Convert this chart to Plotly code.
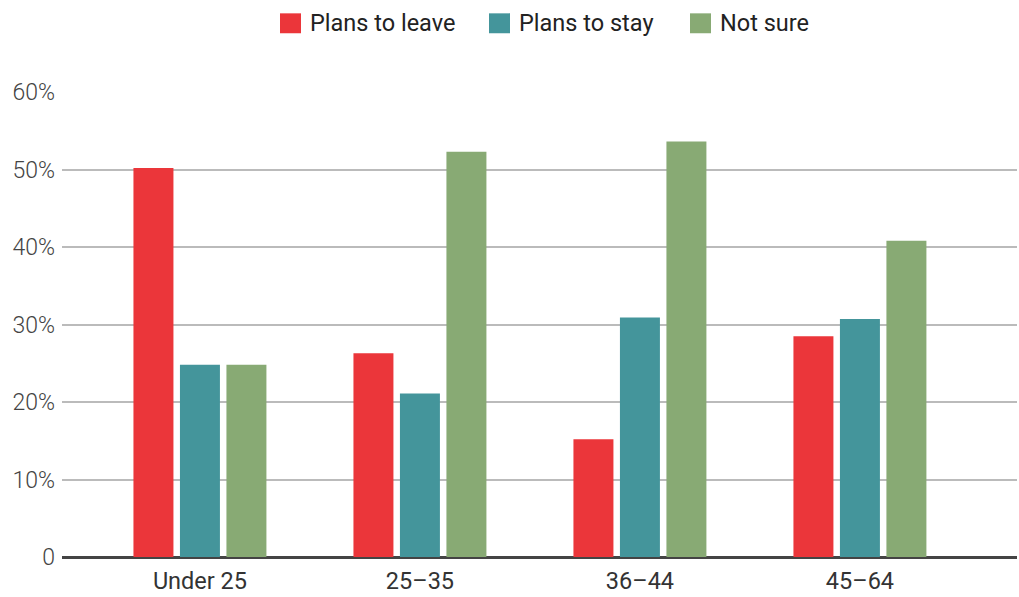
import plotly.graph_objects as go

categories = ["Under 25", "25–35", "36–44", "45–64"]
plans_to_leave = [50.2, 26.3, 15.2, 28.5]
plans_to_stay = [24.8, 21.1, 30.9, 30.7]
not_sure = [24.8, 52.3, 53.6, 40.8]
series_names = ["Plans to leave", "Plans to stay", "Not sure"]
y_tick_values = [0, 10, 20, 30, 40, 50, 60]
y_tick_labels = ["0", "10%", "20%", "30%", "40%", "50%", "60%"]

colors = ["#eb363a", "#44959b", "#88aa74"]
FONT = "Roboto"

fig = go.Figure()
for name, vals, col in zip(series_names, [plans_to_leave, plans_to_stay, not_sure], colors):
    fig.add_trace(go.Bar(x=categories, y=vals, name=name, marker=dict(color=col, line=dict(width=0)),
                         showlegend=False))

# custom legend (swatches + real text)
legend_x = [280, 489, 690]  # pixel positions of swatches
W, H = 1019, 597
ml, mr, mt, mb = 62, 2, 92, 38
pw = W - ml - mr
ph = H - mt - mb
shapes = []
annotations = []
for name, col, px in zip(series_names, colors, legend_x):
    x0 = (px - ml) / pw
    x1 = (px + 21 - ml) / pw
    y_top = (H - mb - 13) / ph
    y_bot = (H - mb - 33) / ph
    shapes.append(dict(type="rect", xref="paper", yref="paper", x0=x0, x1=x1, y0=y_bot, y1=y_top,
                       fillcolor=col, line=dict(width=0)))
    annotations.append(dict(xref="paper", yref="paper", x=(px + 28 - ml) / pw, y=(H - mb - 23) / ph,
                            xanchor="left", yanchor="middle", text=name, showarrow=False,
                            font=dict(family=FONT, size=23.5, color="#222222")))

fig.update_layout(
    width=W, height=H,
    margin=dict(l=ml, r=mr, t=mt, b=mb),
    paper_bgcolor="white", plot_bgcolor="white",
    barmode="group", bargap=0.366, bargroupgap=0.14,
    shapes=shapes, annotations=annotations,
    xaxis=dict(range=[-0.627, 3.714], showgrid=False, showline=False, zeroline=False,
               ticks="", ticklabelstandoff=7,
               tickfont=dict(family=FONT, size=23.5, color="#333333")),
    yaxis=dict(range=[0, 60], tickvals=y_tick_values, ticktext=y_tick_labels,
               showgrid=True, gridcolor="#bbbbbb", gridwidth=1.5,
               zeroline=True, zerolinecolor="#444444", zerolinewidth=2.5,
               showline=False, ticks="", ticklabelstandoff=6,
               tickfont=dict(family=FONT, size=23, color="#444444", weight=300)),
    font=dict(family=FONT),
)

fig.write_html("out.html")
